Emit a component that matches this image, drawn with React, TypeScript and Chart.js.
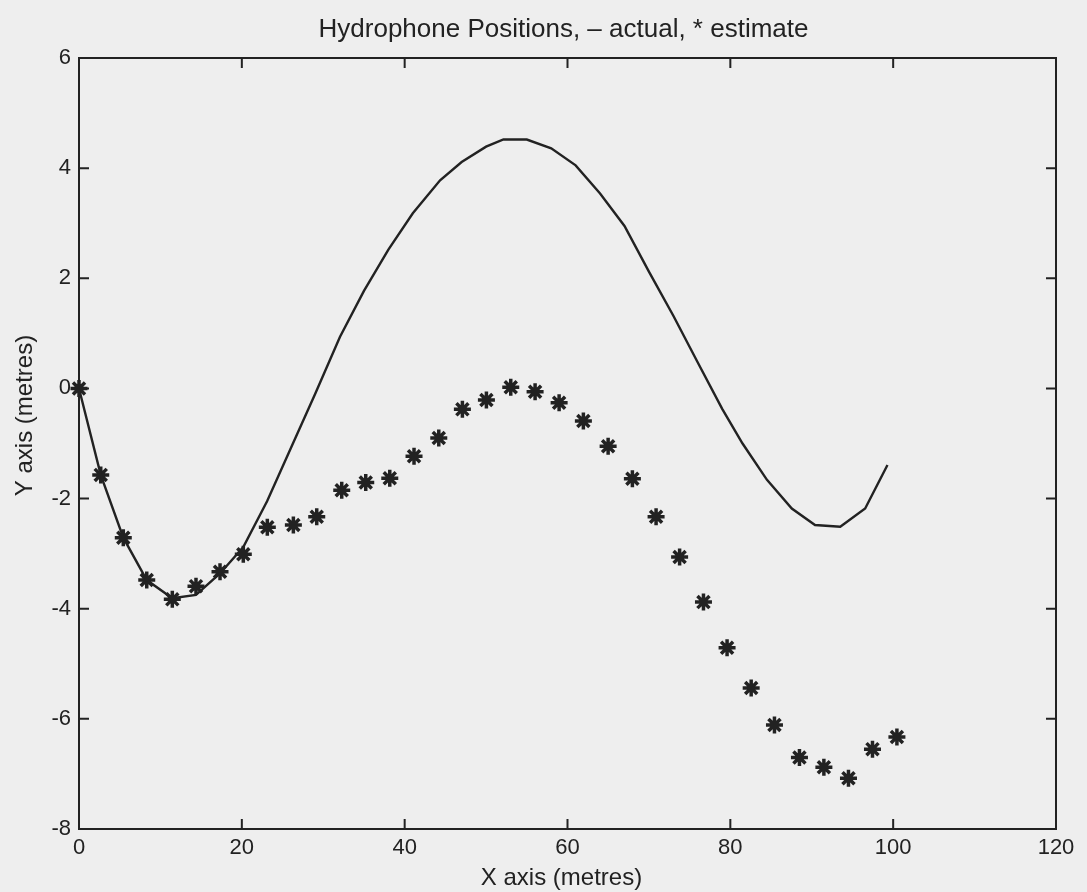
import React, { useEffect, useRef } from "react";
import { Chart, registerables } from "chart.js";

Chart.register(...registerables);

// Actual hydrophone positions (solid line)
const actualX = [0, 2.67, 5.44, 8.32, 11.46, 14.37, 17.32, 20.18, 23.1, 26.0, 29.0, 32.06, 35.0, 38.0, 41.0, 44.35, 47.0, 50.0, 52.13, 55.0, 58.0, 61.0, 64.0, 67.0, 70.0, 73.0, 76.0, 79.0, 81.5, 84.5, 87.55, 90.4, 93.5, 96.56, 99.3];
const actualY = [0, -1.57, -2.71, -3.48, -3.81, -3.75, -3.36, -2.88, -2.05, -1.09, -0.1, 0.94, 1.77, 2.52, 3.18, 3.78, 4.11, 4.39, 4.52, 4.52, 4.36, 4.05, 3.54, 2.95, 2.12, 1.32, 0.47, -0.37, -1.0, -1.66, -2.18, -2.48, -2.51, -2.18, -1.39];

// Estimated positions (asterisks)
const estimateX = [0, 2.67, 5.44, 8.32, 11.46, 14.37, 17.32, 20.18, 23.13, 26.33, 29.2, 32.27, 35.22, 38.17, 41.15, 44.19, 47.09, 50.04, 53.03, 56.02, 58.97, 61.95, 64.99, 67.97, 70.88, 73.77, 76.7, 79.6, 82.56, 85.42, 88.49, 91.49, 94.51, 97.46, 100.46];
const estimateY = [0, -1.57, -2.71, -3.48, -3.83, -3.59, -3.33, -3.01, -2.52, -2.48, -2.33, -1.85, -1.71, -1.63, -1.23, -0.9, -0.38, -0.21, 0.02, -0.06, -0.26, -0.59, -1.05, -1.64, -2.33, -3.06, -3.88, -4.71, -5.44, -6.11, -6.7, -6.88, -7.08, -6.55, -6.33];

const xTicks = [0, 20, 40, 60, 80, 100, 120];
const yTicks = [-8, -6, -4, -2, 0, 2, 4, 6];

const titleText = "Hydrophone Positions, \u2013 actual, * estimate";
const xLabelText = "X axis (metres)";
const yLabelText = "Y axis (metres)";

const INK = "#222222";
const FONT = "'Liberation Sans', Arial, Helvetica, sans-serif";

const framePlugin = {
  id: "frameTicks",
  afterDatasetsDraw(chart: any) {
    const { ctx, chartArea, scales } = chart;
    const { left, right, top, bottom } = chartArea;
    const len = 10;
    ctx.save();
    ctx.strokeStyle = INK;
    ctx.lineWidth = 2;
    ctx.strokeRect(left, top, right - left, bottom - top);
    ctx.beginPath();
    xTicks.forEach((v) => {
      const px = scales.x.getPixelForValue(v);
      ctx.moveTo(px, bottom);
      ctx.lineTo(px, bottom - len);
      ctx.moveTo(px, top);
      ctx.lineTo(px, top + len);
    });
    yTicks.forEach((v) => {
      const py = scales.y.getPixelForValue(v);
      ctx.moveTo(left, py);
      ctx.lineTo(left + len, py);
      ctx.moveTo(right, py);
      ctx.lineTo(right - len, py);
    });
    ctx.stroke();
    ctx.restore();
  },
};

const textPlugin = {
  id: "texts",
  afterDraw(chart: any) {
    const { ctx, chartArea } = chart;
    const cx = (chartArea.left + chartArea.right) / 2;
    const cy = (chartArea.top + chartArea.bottom) / 2;
    ctx.save();
    ctx.fillStyle = INK;
    ctx.textAlign = "center";
    ctx.textBaseline = "middle";
    ctx.font = `26px ${FONT}`;
    ctx.fillText(titleText, cx - 4, 30);
    ctx.font = `24px ${FONT}`;
    ctx.fillText(xLabelText, cx - 6, 878);
    ctx.translate(25, cy - 28);
    ctx.rotate(-Math.PI / 2);
    ctx.fillText(yLabelText, 0, 0);
    ctx.restore();
  },
};

export default function App() {
  const canvasRef = useRef<HTMLCanvasElement | null>(null);

  useEffect(() => {
    const canvas = canvasRef.current;
    if (!canvas) return;
    const chart = new Chart(canvas, {
      type: "scatter",
      data: {
        datasets: [
          {
            label: "actual",
            data: actualX.map((x, i) => ({ x, y: actualY[i] })),
            showLine: true,
            borderColor: INK,
            borderWidth: 2.4,
            pointRadius: 0,
            tension: 0,
            clip: false as any,
          },
          {
            label: "estimate",
            data: estimateX.map((x, i) => ({ x, y: estimateY[i] })),
            showLine: false,
            pointStyle: "star",
            pointRadius: 8.5,
            pointBorderWidth: 3.5,
            pointBorderColor: INK,
            pointBackgroundColor: INK,
            borderColor: INK,
            clip: false as any,
          },
        ],
      },
      options: {
        animation: false,
        responsive: false,
        devicePixelRatio: 1,
        layout: { padding: { top: 58, right: 31, left: 0, bottom: 0 } },
        plugins: {
          legend: { display: false },
          title: { display: false },
          tooltip: { enabled: false },
        },
        scales: {
          x: {
            type: "linear",
            min: 0,
            max: 120,
            afterBuildTicks: (scale: any) => {
              scale.ticks = xTicks.map((v) => ({ value: v }));
            },
            afterFit: (scale: any) => {
              scale.height = 63;
            },
            grid: { display: false, drawTicks: false },
            border: { display: false },
            ticks: {
              color: INK,
              font: { family: FONT, size: 22 },
              padding: 6,
              maxRotation: 0,
              autoSkip: false,
            },
          },
          y: {
            type: "linear",
            min: -8,
            max: 6,
            afterBuildTicks: (scale: any) => {
              scale.ticks = yTicks.map((v) => ({ value: v }));
            },
            afterFit: (scale: any) => {
              scale.width = 79;
            },
            grid: { display: false, drawTicks: false },
            border: { display: false },
            ticks: {
              color: INK,
              font: { family: FONT, size: 22 },
              padding: 8,
              autoSkip: false,
            },
          },
        },
      },
      plugins: [framePlugin, textPlugin],
    });
    return () => chart.destroy();
  }, []);

  return (
    <div
      style={{
        position: "absolute",
        left: 0,
        top: 0,
        width: 1087,
        height: 892,
        background: "#eeeeee",
      }}
    >
      <canvas ref={canvasRef} width={1087} height={892} />
    </div>
  );
}
